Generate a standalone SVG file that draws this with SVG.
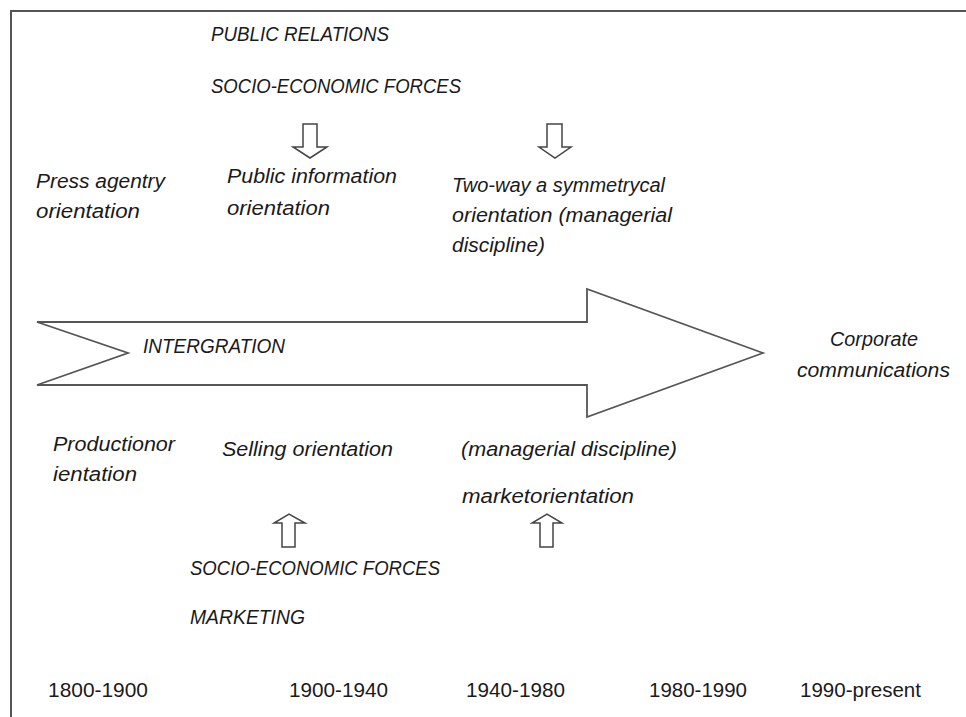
<svg xmlns="http://www.w3.org/2000/svg" width="966" height="717" viewBox="0 0 966 717">
<style>
.t{font-family:"Liberation Sans",Arial,sans-serif;font-size:20px;font-style:italic;fill:#1a1a1a}
.y{font-family:"Liberation Sans",Arial,sans-serif;font-size:20px;fill:#1a1a1a}
.ar{fill:#fff;stroke:#444;stroke-width:1.5;stroke-linejoin:miter}
.big{fill:#fff;stroke:#555;stroke-width:1.8;stroke-linejoin:miter}
.frame{fill:none;stroke:#555;stroke-width:2}
</style>
<rect width="966" height="717" fill="#fff"/>
<path class="frame" d="M11,717 V11 H966"/>
<g id="main-arrow">
<polygon class="big" points="37,322 587,322 587,289 763,353 587,417 587,385 37,385 128,353"/>
<text class="t" x="143" y="353" textLength="142" lengthAdjust="spacingAndGlyphs">INTERGRATION</text>
</g>
<g id="connectors">
<polygon class="ar" points="303,124 317,124 317,147 327,147 310,158 293,147 303,147"/>
<polygon class="ar" points="547,124 562,124 562,147 571,147 555,158 539,147 547,147"/>
<polygon class="ar" points="282,547 295,547 295,523 305,523 289,514 274,523 282,523"/>
<polygon class="ar" points="540,547 553,547 553,523 562,523 547,514 532,523 540,523"/>
</g>
<g id="public-relations">
<text class="t" x="211" y="41" textLength="178" lengthAdjust="spacingAndGlyphs">PUBLIC RELATIONS</text>
</g>
<g id="socio-economic-top">
<text class="t" x="211" y="93" textLength="250" lengthAdjust="spacingAndGlyphs">SOCIO-ECONOMIC FORCES</text>
</g>
<g id="press-agentry">
<text class="t" x="36" y="188" textLength="129" lengthAdjust="spacingAndGlyphs">Press agentry</text>
<text class="t" x="36" y="218" textLength="104" lengthAdjust="spacingAndGlyphs">orientation</text>
</g>
<g id="public-information">
<text class="t" x="227" y="183" textLength="170" lengthAdjust="spacingAndGlyphs">Public information</text>
<text class="t" x="227" y="215" textLength="103" lengthAdjust="spacingAndGlyphs">orientation</text>
</g>
<g id="two-way">
<text class="t" x="452" y="192" textLength="213" lengthAdjust="spacingAndGlyphs">Two-way a symmetrycal</text>
<text class="t" x="452" y="222" textLength="220" lengthAdjust="spacingAndGlyphs">orientation (managerial</text>
<text class="t" x="452" y="252" textLength="93" lengthAdjust="spacingAndGlyphs">discipline)</text>
</g>
<g id="corporate">
<text class="t" x="830" y="346" textLength="88" lengthAdjust="spacingAndGlyphs">Corporate</text>
<text class="t" x="797" y="377" textLength="153" lengthAdjust="spacingAndGlyphs">communications</text>
</g>
<g id="production">
<text class="t" x="53" y="451" textLength="122" lengthAdjust="spacingAndGlyphs">Productionor</text>
<text class="t" x="53" y="481" textLength="84" lengthAdjust="spacingAndGlyphs">ientation</text>
</g>
<g id="selling">
<text class="t" x="222" y="456" textLength="171" lengthAdjust="spacingAndGlyphs">Selling orientation</text>
</g>
<g id="market">
<text class="t" x="461" y="456" textLength="216" lengthAdjust="spacingAndGlyphs">(managerial discipline)</text>
<text class="t" x="462" y="503" textLength="172" lengthAdjust="spacingAndGlyphs">marketorientation</text>
</g>
<g id="socio-economic-bottom">
<text class="t" x="190" y="575" textLength="250" lengthAdjust="spacingAndGlyphs">SOCIO-ECONOMIC FORCES</text>
</g>
<g id="marketing">
<text class="t" x="190" y="624" textLength="115" lengthAdjust="spacingAndGlyphs">MARKETING</text>
</g>
<g id="years">
<text class="y" x="48" y="697" textLength="100" lengthAdjust="spacingAndGlyphs">1800-1900</text>
<text class="y" x="289" y="697" textLength="99" lengthAdjust="spacingAndGlyphs">1900-1940</text>
<text class="y" x="466" y="697" textLength="99" lengthAdjust="spacingAndGlyphs">1940-1980</text>
<text class="y" x="649" y="697" textLength="98" lengthAdjust="spacingAndGlyphs">1980-1990</text>
<text class="y" x="800" y="697" textLength="121" lengthAdjust="spacingAndGlyphs">1990-present</text>
</g>
</svg>
